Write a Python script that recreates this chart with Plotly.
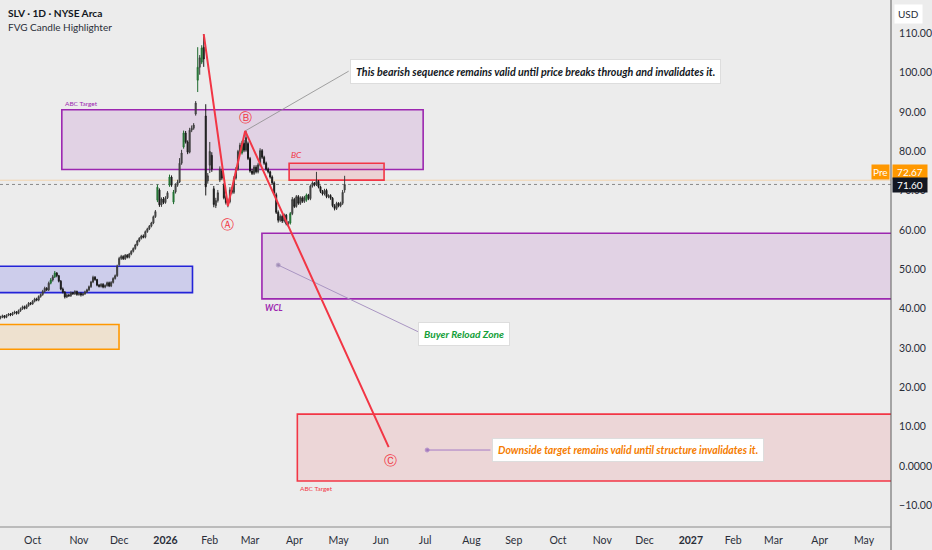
import pandas as pd
import plotly.graph_objects as go

# ---------------- data ----------------
title_text = "SLV · 1D · NYSE Arca"
subtitle_text = "FVG Candle Highlighter"

bar_start = "2025-09-09"

opens = [
    37.6, 37.9, 38.2, 37.8, 38.3, 38.7, 38.4, 38.9, 39.2, 38.8,
    39.5, 40.0, 40.5, 40.1, 40.8, 41.4, 41.2, 41.9, 42.5, 42.2,
    43.1, 43.6, 44.4, 45.2, 44.8, 46.5, 47.3, 48.1, 49.1, 48.4,
    47.0, 45.0, 44.2, 43.0, 43.5, 43.3, 44.1, 43.8, 44.4, 43.6,
    43.9, 43.5, 43.8, 44.3, 44.8, 45.6, 46.8, 48.0, 47.4, 46.0,
    45.7, 46.2, 45.5, 45.9, 46.6, 45.8, 46.7, 47.7, 48.4, 51.2,
    52.8, 53.3, 52.7, 53.6, 53.1, 53.9, 54.6, 55.3, 56.2, 57.2,
    57.9, 58.5, 58.2, 59.6, 60.3, 61.0, 61.8, 63.4, 67.6, 70.2,
    66.4, 67.9, 67.0, 68.2, 71.4, 73.5, 67.1, 69.7, 71.4, 72.2,
    77.0, 81.1, 84.7, 82.4, 79.8, 85.4, 85.9, 89.5, 98.1, 101.4,
    102.7, 106.5, 89.0, 72.5, 76.5, 79.0, 70.5, 66.2, 67.5, 72.7,
    75.0, 71.4, 68.2, 67.0, 67.2, 70.2, 69.6, 73.2, 75.5, 80.0,
    79.6, 82.1, 80.3, 82.0, 78.2, 75.0, 74.4, 76.0, 74.8, 76.6,
    80.2, 78.5, 77.0, 75.5, 74.8, 73.5, 72.0, 69.0, 64.5, 62.5,
    63.5, 62.3, 63.8, 61.6, 61.8, 64.2, 67.8, 66.0, 68.5, 66.8,
    68.2, 67.3, 67.6, 68.9, 68.0, 71.2, 72.0, 71.5, 72.4, 71.0,
    69.8, 69.2, 70.1, 68.5, 68.8, 68.1, 66.2, 65.5, 66.8, 66.2,
    66.8, 70.2,
]
highs = [
    38.2, 38.5, 38.4, 38.6, 38.9, 38.9, 39.2, 39.5, 39.4, 39.8,
    40.3, 40.8, 40.8, 41.1, 41.7, 41.7, 42.2, 42.8, 42.8, 43.4,
    43.9, 44.8, 45.6, 45.5, 46.9, 47.8, 48.6, 49.6, 49.3, 48.6,
    47.3, 45.4, 44.5, 43.9, 43.8, 44.4, 44.3, 44.7, 44.6, 44.2,
    44.2, 44.1, 44.6, 45.1, 45.9, 47.1, 48.4, 48.3, 47.6, 46.3,
    46.5, 46.5, 46.2, 46.9, 46.9, 47.0, 48.0, 48.7, 51.2, 53.2,
    53.7, 53.6, 53.9, 53.9, 54.2, 54.9, 55.6, 56.5, 57.5, 58.2,
    58.8, 58.9, 59.9, 60.6, 61.3, 62.1, 63.7, 65.1, 71.6, 70.6,
    68.3, 68.4, 68.6, 69.9, 74.1, 73.9, 70.2, 71.9, 72.8, 78.3,
    80.4, 85.3, 85.2, 82.8, 86.0, 86.6, 87.2, 92.8, 106.5, 104.5,
    107.0, 109.8, 92.0, 74.5, 82.4, 79.8, 71.2, 68.2, 70.2, 76.2,
    75.6, 71.9, 68.8, 68.0, 70.9, 70.9, 73.7, 76.0, 80.4, 82.2,
    82.7, 82.9, 85.2, 82.5, 78.6, 75.6, 76.5, 76.5, 77.1, 80.8,
    80.6, 78.9, 77.4, 75.9, 75.1, 73.9, 72.4, 69.5, 65.0, 64.0,
    63.9, 64.2, 64.1, 62.3, 64.6, 68.4, 68.2, 68.9, 68.9, 68.6,
    68.6, 68.7, 69.3, 69.2, 71.6, 72.4, 72.2, 74.8, 72.7, 71.3,
    70.2, 70.5, 70.5, 69.1, 69.1, 68.4, 66.6, 67.2, 67.1, 67.2,
    70.2, 73.8,
]
lows = [
    37.3, 37.6, 37.5, 37.6, 38.1, 38.1, 38.2, 38.6, 38.5, 38.6,
    39.2, 39.7, 39.8, 39.9, 40.5, 40.9, 41.0, 41.6, 41.9, 41.9,
    42.8, 43.3, 44.1, 44.5, 44.5, 46.2, 46.9, 47.8, 48.0, 46.7,
    44.7, 43.9, 42.6, 42.7, 43.0, 43.0, 43.5, 43.5, 43.3, 43.3,
    43.1, 43.2, 43.5, 44.0, 44.5, 45.3, 46.5, 47.1, 45.7, 45.4,
    45.4, 45.2, 45.2, 45.6, 45.5, 45.5, 46.4, 47.4, 48.1, 50.9,
    52.4, 52.4, 52.4, 52.8, 52.8, 53.6, 54.3, 55.0, 55.9, 56.9,
    57.6, 57.9, 57.9, 59.3, 60.0, 60.7, 61.5, 63.1, 67.1, 65.9,
    65.9, 66.6, 66.7, 67.9, 71.0, 71.0, 66.6, 69.3, 71.0, 72.0,
    76.6, 80.7, 82.0, 79.3, 79.5, 84.9, 85.5, 89.1, 95.1, 99.5,
    102.2, 101.5, 68.8, 71.8, 74.5, 74.8, 65.8, 65.6, 67.0, 72.2,
    72.7, 67.8, 66.5, 65.8, 66.8, 69.1, 69.2, 72.8, 75.1, 79.5,
    79.2, 79.8, 79.9, 77.8, 74.6, 74.0, 74.0, 74.4, 74.4, 76.2,
    78.1, 76.6, 75.1, 74.4, 73.1, 71.6, 69.0, 64.1, 61.9, 62.1,
    61.8, 61.9, 61.2, 60.8, 61.4, 63.8, 65.6, 65.7, 66.4, 66.4,
    66.9, 66.9, 67.2, 67.6, 67.6, 70.8, 71.1, 71.2, 70.6, 69.4,
    68.8, 68.8, 68.1, 68.1, 67.7, 65.8, 65.0, 65.1, 65.8, 65.8,
    66.4, 69.5,
]
closes = [
    37.9, 38.2, 37.8, 38.3, 38.6, 38.4, 38.9, 39.2, 38.8, 39.5,
    40.0, 40.5, 40.1, 40.8, 41.4, 41.2, 41.9, 42.5, 42.2, 43.1,
    43.6, 44.4, 45.2, 44.8, 46.5, 47.3, 48.1, 49.1, 48.4, 47.0,
    45.0, 44.2, 43.0, 43.5, 43.3, 44.1, 43.8, 44.4, 43.6, 43.9,
    43.5, 43.8, 44.3, 44.8, 45.6, 46.8, 48.0, 47.4, 46.0, 45.7,
    46.2, 45.5, 45.9, 46.6, 45.8, 46.7, 47.7, 48.4, 50.8, 52.8,
    53.3, 52.7, 53.6, 53.1, 53.9, 54.6, 55.3, 56.2, 57.2, 57.9,
    58.5, 58.2, 59.6, 60.3, 61.0, 61.8, 63.4, 64.7, 70.9, 66.4,
    67.9, 67.0, 68.2, 69.5, 73.5, 71.4, 69.7, 71.4, 72.2, 77.0,
    79.6, 84.7, 82.4, 79.8, 85.4, 85.9, 86.7, 92.3, 101.4, 103.8,
    106.3, 103.5, 71.0, 73.8, 80.0, 75.5, 66.5, 67.5, 69.5, 75.5,
    73.2, 68.2, 67.0, 67.2, 70.2, 69.6, 73.2, 75.5, 80.0, 81.6,
    82.1, 80.3, 83.5, 78.2, 75.0, 74.4, 76.0, 74.8, 76.6, 80.2,
    78.5, 77.0, 75.5, 74.8, 73.5, 72.0, 69.4, 64.5, 62.5, 63.5,
    62.3, 63.8, 61.6, 61.8, 64.2, 67.8, 66.0, 68.5, 66.8, 68.2,
    67.3, 68.3, 68.9, 68.0, 71.2, 72.0, 71.5, 72.4, 71.0, 69.8,
    69.2, 70.1, 68.5, 68.8, 68.1, 66.2, 65.5, 66.8, 66.2, 66.8,
    69.6, 71.6,
]
fvg_bars = [25, 27, 78, 84, 86, 91, 98, 100, 120, 144, 152]

# ABC wave pivots
wave_dates = ["2026-01-28", "2026-02-13", "2026-02-25 14:00", "2026-06-04 21:00"]
wave_prices = [109.8, 66.1, 85.2, 4.8]
wave_label_text = ["Ⓐ", "Ⓑ", "Ⓒ"]
wave_label_dates = ["2026-02-13", "2026-02-25 14:00", "2026-06-05 21:00"]
wave_label_prices = [61.5, 88.7, 1.3]

# zones: (x0, x1, price low, price high)
abc_target_upper = ("2025-10-21 12:00", "2026-06-30", 75.4, 90.6)
blue_zone = ("2025-06-01", "2026-01-20 10:00", 44.1, 50.8)
orange_zone = ("2025-06-01", "2025-11-28 22:00", 29.7, 36.0)
wcl_zone = ("2026-03-09 22:00", "2028-01-01", 42.5, 59.2)
abc_target_lower = ("2026-04-02 12:00", "2028-01-01", -3.8, 13.2)
bc_zone = ("2026-03-27 10:00", "2026-06-02 14:00", 72.7, 77.0)

last_price = 71.60
pre_price = 72.67

# callouts
top_note = "This bearish sequence remains valid until price breaks through and invalidates it."
top_note_date, top_note_price = "2026-09-16", 100.4
top_line_dates = ["2026-02-25 14:00", "2026-05-08"]
top_line_prices = [85.2, 100.4]

buyer_note = "Buyer Reload Zone"
buyer_note_date, buyer_note_price = "2026-07-28 12:00", 33.6
buyer_line_dates = ["2026-03-20", "2026-06-25 17:00"]
buyer_line_prices = [51.1, 34.1]

down_note = "Downside target remains valid until structure invalidates it."
down_note_date, down_note_price = "2026-11-18 17:00", 4.07
down_line_dates = ["2026-07-02", "2026-08-14 10:00"]
down_line_prices = [4.07, 4.07]

y_ticks = [-10, 0, 10, 20, 30, 40, 50, 60, 70, 80, 90, 100, 110]
y_tick_labels = ["−10.00", "0.0000", "10.00", "20.00", "30.00", "40.00", "50.00",
                 "60.00", "70.00", "80.00", "90.00", "100.00", "110.00"]

x_ticks = ["2025-10-01", "2025-11-03", "2025-12-01", "2026-01-01", "2026-02-02",
           "2026-03-02", "2026-04-01", "2026-05-01", "2026-06-01", "2026-07-01",
           "2026-08-03", "2026-09-01", "2026-10-01", "2026-11-02", "2026-12-01",
           "2027-01-01", "2027-02-01", "2027-03-01", "2027-04-01", "2027-05-03"]
x_tick_labels = ["Oct", "Nov", "Dec", "<b>2026</b>", "Feb", "Mar", "Apr", "May", "Jun",
                 "Jul", "Aug", "Sep", "Oct", "Nov", "Dec", "<b>2027</b>", "Feb", "Mar",
                 "Apr", "May"]

# ---------------- figure ----------------
dates = pd.bdate_range(bar_start, periods=len(closes))
BG = "#ececec"
FONT = "Lato"
RED = "#f23645"
PURPLE = "#9c27b0"

fig = go.Figure()

normal_idx = [i for i in range(len(closes)) if i not in fvg_bars]

def pick(arr, idx):
    return [arr[i] for i in idx]

fig.add_trace(go.Candlestick(
    x=pick(list(dates), normal_idx), open=pick(opens, normal_idx), high=pick(highs, normal_idx),
    low=pick(lows, normal_idx), close=pick(closes, normal_idx),
    increasing=dict(line=dict(color="#3c3c3c", width=1), fillcolor="#5a5a5a"),
    decreasing=dict(line=dict(color="#1a1a1a", width=1), fillcolor="#262626"),
    hoverinfo="skip", showlegend=False))
fig.add_trace(go.Candlestick(
    x=pick(list(dates), fvg_bars), open=pick(opens, fvg_bars), high=pick(highs, fvg_bars),
    low=pick(lows, fvg_bars), close=pick(closes, fvg_bars),
    increasing=dict(line=dict(color="#1f6b2f", width=1), fillcolor="#2e9b45"),
    decreasing=dict(line=dict(color="#1f6b2f", width=1), fillcolor="#2e9b45"),
    hoverinfo="skip", showlegend=False))

# zones
def zone(z, line_color, fill):
    fig.add_shape(type="rect", xref="x", yref="y", x0=z[0], x1=z[1], y0=z[2], y1=z[3],
                  line=dict(color=line_color, width=1.6), fillcolor=fill, layer="below")

zone(abc_target_upper, PURPLE, "rgba(156,39,176,0.13)")
zone(blue_zone, "#2323d8", "rgba(45,45,230,0.16)")
zone(orange_zone, "#ff9800", "rgba(255,152,0,0.12)")
zone(wcl_zone, PURPLE, "rgba(156,39,176,0.13)")
zone(abc_target_lower, RED, "rgba(242,54,69,0.12)")
zone(bc_zone, RED, "rgba(242,54,69,0.14)")

# price lines
fig.add_shape(type="line", xref="paper", x0=0, x1=1, yref="y", y0=pre_price, y1=pre_price,
              line=dict(color="rgba(255,170,60,0.35)", width=1), layer="below")
fig.add_shape(type="line", xref="paper", x0=0, x1=1, yref="y", y0=last_price, y1=last_price,
              line=dict(color="#8a8a8a", width=1, dash="dot"), layer="below")

# axis border lines
fig.add_shape(type="line", xref="paper", yref="paper", x0=1, x1=1, y0=-0.1, y1=1,
              line=dict(color="#5d5d5d", width=1))
fig.add_shape(type="line", xref="paper", yref="paper", x0=0, x1=1, y0=0, y1=0,
              line=dict(color="#8a8a8a", width=1))

# connector lines
fig.add_trace(go.Scatter(x=top_line_dates, y=top_line_prices, mode="lines",
                         line=dict(color="#8c8c8c", width=0.8), hoverinfo="skip", showlegend=False))
fig.add_trace(go.Scatter(x=buyer_line_dates, y=buyer_line_prices, mode="lines+markers",
                         line=dict(color="#a995c2", width=1), marker=dict(size=[4, 0], color="#8e7aa8"),
                         hoverinfo="skip", showlegend=False))
fig.add_trace(go.Scatter(x=down_line_dates, y=down_line_prices, mode="lines+markers",
                         line=dict(color="#a47bc6", width=1), marker=dict(size=[4, 0], color="#8e5fb5"),
                         hoverinfo="skip", showlegend=False))

# ABC zigzag
fig.add_trace(go.Scatter(x=wave_dates, y=wave_prices, mode="lines",
                         line=dict(color=RED, width=2), hoverinfo="skip", showlegend=False))

for t, d, p in zip(wave_label_text, wave_label_dates, wave_label_prices):
    fig.add_annotation(x=d, y=p, text=t, showarrow=False,
                       font=dict(family="DejaVu Sans", size=13, color=RED))

# zone labels
fig.add_annotation(x=abc_target_upper[0], y=abc_target_upper[3], text="ABC Target", showarrow=False,
                   xanchor="left", yanchor="bottom", xshift=1, yshift=1,
                   font=dict(family=FONT, size=6.5, color=PURPLE))
fig.add_annotation(x=abc_target_lower[0], y=abc_target_lower[2], text="ABC Target", showarrow=False,
                   xanchor="left", yanchor="top", xshift=1, yshift=-2,
                   font=dict(family=FONT, size=6.5, color=RED))
fig.add_annotation(x=bc_zone[0], y=bc_zone[3], text="<i>BC</i>", showarrow=False,
                   xanchor="left", yanchor="bottom", xshift=0, yshift=1,
                   font=dict(family=FONT, size=8.5, color=RED))
fig.add_annotation(x=wcl_zone[0], y=wcl_zone[2], text="<b><i>WCL</i></b>", showarrow=False,
                   xanchor="left", yanchor="top", xshift=1, yshift=-2,
                   font=dict(family=FONT, size=8.5, color=PURPLE))

# callouts
def note(d, p, text, color, size):
    fig.add_annotation(x=d, y=p, text="<b><i>" + text + "</i></b>", showarrow=False,
                       bgcolor="#ffffff", bordercolor="#dddddd", borderwidth=1, borderpad=5,
                       font=dict(family=FONT, size=size, color=color))

note(top_note_date, top_note_price, top_note, "#131722", 10.7)
note(buyer_note_date, buyer_note_price, buyer_note, "#15a03a", 10.2)
note(down_note_date, down_note_price, down_note, "#f57c00", 10.5)

# titles
fig.add_annotation(xref="paper", yref="paper", x=0.0067, y=1 - 13 / 527, text="<b>" + title_text + "</b>",
                   showarrow=False, xanchor="left", yanchor="middle",
                   font=dict(family=FONT, size=10.2, color="#131722"))
fig.add_annotation(xref="paper", yref="paper", x=0.0067, y=1 - 26.5 / 527, text=subtitle_text,
                   showarrow=False, xanchor="left", yanchor="middle",
                   font=dict(family=FONT, size=10, color="#2a2e39"))

# price scale labels
fig.add_annotation(xref="paper", yref="paper", x=1 + 18 / 894, y=1 - 13.5 / 527, text="USD",
                   showarrow=False, bgcolor="#ffffff", borderpad=3,
                   xanchor="center", yanchor="middle",
                   font=dict(family=FONT, size=10, color="#2a2e39"))
fig.add_annotation(xref="paper", yref="y", x=1, y=74.8, text="Pre", showarrow=False,
                   xanchor="right", yanchor="middle", bgcolor="#ff9800", borderpad=1, xshift=-1,
                   font=dict(family=FONT, size=10, color="#ffffff"))
fig.add_annotation(xref="paper", yref="y", x=1, y=74.8, text=f"{pre_price:.2f}", showarrow=False,
                   xanchor="left", yanchor="middle", bgcolor="#ff9800", borderpad=1, width=32, xshift=1,
                   font=dict(family=FONT, size=10, color="#ffffff"))
fig.add_annotation(xref="paper", yref="y", x=1, y=71.5, text=f"{last_price:.2f}", showarrow=False,
                   xanchor="left", yanchor="middle", bgcolor="#131722", borderpad=1, width=32, xshift=1,
                   font=dict(family=FONT, size=10, color="#ffffff"))

fig.update_layout(
    width=932, height=550,
    margin=dict(l=0, r=38, t=0, b=23),
    paper_bgcolor=BG, plot_bgcolor=BG,
    showlegend=False,
    font=dict(family=FONT, color="#2a2e39"),
    xaxis=dict(
        type="date",
        range=["2025-09-08 19:00", "2027-05-20 10:00"],
        rangebreaks=[dict(bounds=["sat", "mon"])],
        rangeslider=dict(visible=False),
        tickmode="array", tickvals=x_ticks, ticktext=x_tick_labels,
        showgrid=False, zeroline=False, showline=False,
        ticks="outside", ticklen=3, tickcolor="rgba(0,0,0,0)",
        tickfont=dict(family=FONT, size=10.5, color="#2a2e39"),
    ),
    yaxis=dict(
        side="right",
        range=[-15.5, 118.5],
        tickmode="array", tickvals=y_ticks, ticktext=y_tick_labels,
        showgrid=False, zeroline=False, showline=False,
        ticks="outside", ticklen=5, tickcolor="rgba(0,0,0,0)",
        tickfont=dict(family=FONT, size=10.5, color="#2a2e39"),
    ),
)

fig.write_html("out.html", config={"displayModeBar": False},
               post_script="document.body.style.margin='0';document.body.style.overflow='hidden';")
